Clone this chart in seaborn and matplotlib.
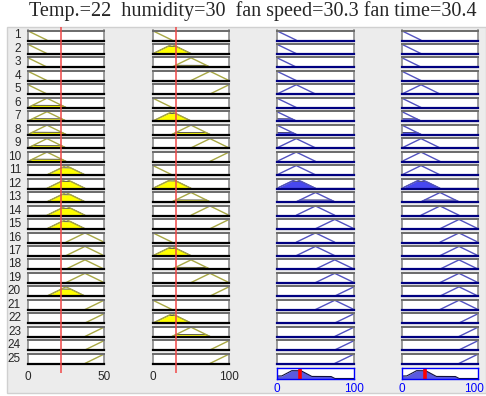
import numpy as np
import matplotlib
matplotlib.use("Agg")
import matplotlib.pyplot as plt
import matplotlib.transforms as mtransforms
from matplotlib.patches import Rectangle
import seaborn as sns

# --- inputs / outputs of the fuzzy system ---
temp_val = 22
hum_val = 30
speed_val = 30.3
time_val = 30.4

temp_range = [0, 50]
hum_range = [0, 100]
speed_range = [0, 100]
time_range = [0, 100]

# triangular membership functions [a, b, c]
temp_mfs = [[-12.5, 0, 12.5], [0, 12.5, 25], [12.5, 25, 37.5], [25, 37.5, 50], [37.5, 50, 62.5]]
hum_mfs = [[-25, 0, 25], [0, 25, 50], [25, 50, 75], [50, 75, 100], [75, 100, 125]]
speed_mfs = [[-25, 0, 25], [0, 25, 50], [25, 50, 75], [50, 75, 100], [75, 100, 125]]
time_mfs = [[-25, 0, 25], [0, 25, 50], [25, 50, 75], [50, 75, 100], [75, 100, 125]]

# rule base (1-based MF index per rule)
rule_temp = [1, 1, 1, 1, 1, 2, 2, 2, 2, 2, 3, 3, 3, 3, 3, 4, 4, 4, 4, 3, 5, 5, 5, 5, 5]
rule_hum = [1, 2, 3, 4, 5, 1, 2, 3, 4, 5, 1, 2, 3, 4, 5, 1, 2, 3, 4, 5, 1, 2, 3, 5, 5]
rule_speed = [1, 1, 1, 1, 2, 1, 1, 1, 2, 2, 2, 2, 3, 3, 4, 3, 3, 4, 4, 5, 4, 5, 5, 5, 5]
rule_time = [1, 1, 1, 1, 2, 1, 1, 1, 2, 2, 2, 2, 3, 3, 4, 4, 4, 4, 4, 4, 4, 5, 5, 5, 5]

title = "Temp.=22  humidity=30  fan speed=30.3 fan time=30.4"


def trimf(x, p):
    a, b, c = p
    x = np.asarray(x, dtype=float)
    left = (x - a) / (b - a)
    right = (c - x) / (c - b)
    return np.clip(np.minimum(left, right), 0, 1)


W, H = 486, 396
fig = plt.figure(figsize=(W / 100, H / 100), dpi=100)
fig.patch.set_facecolor("white")
sns.set_style("white")
plt.rcParams["font.family"] = ["Liberation Sans Narrow", "Liberation Sans", "DejaVu Sans"]

fig.patches.append(Rectangle((7 / W, 1 - 393 / H), (W - 7) / W, (393 - 27) / H,
                             transform=fig.transFigure, facecolor="#ececec",
                             edgecolor="#d0d0d0", lw=1, zorder=-10))


def rect(x0, y0, w, h):
    return [x0 / W, 1 - (y0 + h) / H, w / W, h / H]


cols = [(28, 76), (153, 76), (277, 77), (402, 76)]
row_top0, row_pitch, row_h = 30.5, 13.47, 10

col_specs = [
    (temp_mfs, rule_temp, temp_range, "input"),
    (hum_mfs, rule_hum, hum_range, "input"),
    (speed_mfs, rule_speed, speed_range, "output"),
    (time_mfs, rule_time, time_range, "output"),
]

# firing strength of each rule (min of the two antecedents)
mu_t = [float(trimf(temp_val, temp_mfs[k - 1])) for k in rule_temp]
mu_h = [float(trimf(hum_val, hum_mfs[k - 1])) for k in rule_hum]
strength = [min(a, b) for a, b in zip(mu_t, mu_h)]

line_in = "#a8a844"
line_out = "#5252c0"

for ci, (mfs, rule, rng, kind) in enumerate(col_specs):
    x0, w = cols[ci]
    xs_grid = np.linspace(rng[0], rng[1], 401)
    for i in range(25):
        ax = fig.add_axes(rect(x0, row_top0 + i * row_pitch, w, row_h))
        p = mfs[rule[i] - 1]
        if kind == "input":
            deg = mu_t[i] if ci == 0 else mu_h[i]
            if deg > 0:
                yv = np.minimum(trimf(xs_grid, p), deg)
                ax.fill_between(xs_grid, 0, yv, color="#ffff00", lw=0)
                ax.plot(xs_grid, yv, color="#202000", lw=0.5)
            sns.lineplot(x=p, y=[0, 1, 0], ax=ax, color=line_in, lw=1, sort=False)
            bottom_c = "black"
        else:
            deg = strength[i]
            if deg > 0:
                yv = np.minimum(trimf(xs_grid, p), deg)
                ax.fill_between(xs_grid, 0, yv, color="#4848f0", lw=0)
                ax.plot(xs_grid, yv, color="#202060", lw=0.6)
            sns.lineplot(x=p, y=[0, 1, 0], ax=ax, color=line_out, lw=1, sort=False)
            bottom_c = "#000080"
        ax.set_xlim(rng)
        ax.set_ylim(-0.04, 1.04)
        ax.set_facecolor("white")
        ax.set_xlabel("")
        ax.set_ylabel("")
        ax.set_yticks([])
        for s in ["left", "right"]:
            ax.spines[s].set_color("#808080")
            ax.spines[s].set_linewidth(1.1)
        ax.spines["top"].set_color("#6a6a6a")
        ax.spines["top"].set_linewidth(1.4)
        ax.spines["bottom"].set_color(bottom_c)
        ax.spines["bottom"].set_linewidth(1.6)
        if kind == "input" and i == 24:
            ax.set_xticks(rng)
            ax.set_xticklabels([str(v) for v in rng], fontsize=8.5)
            ax.tick_params(axis="x", length=0, pad=5)
        else:
            ax.set_xticks([])
        if ci == 0:
            fig.text(21 / W, 1 - (row_top0 + i * row_pitch + row_h / 2) / H, str(i + 1),
                     ha="right", va="center", fontsize=8.5)

    if kind == "input":
        ov = fig.add_axes(rect(x0, 27, w, 373 - 27))
        ov.set_xlim(rng)
        ov.patch.set_alpha(0)
        ov.axis("off")
        ov.axvline(temp_val if ci == 0 else hum_val, color="#f04848", lw=1.1)
    else:
        # aggregated output
        ax = fig.add_axes(rect(x0, 368, w, 10.5))
        agg = np.zeros_like(xs_grid)
        for i in range(25):
            agg = np.maximum(agg, np.minimum(trimf(xs_grid, mfs[rule[i] - 1]), strength[i]))
        ax.fill_between(xs_grid, 0, agg, color="#5a5ae0", lw=0)
        sns.lineplot(x=xs_grid, y=agg, ax=ax, color="#101040", lw=0.8)
        ax.axvline(speed_val if ci == 2 else time_val, color="#ff0000", lw=2.6)
        ax.set_xlim(rng)
        ax.set_ylim(0, 1.02)
        ax.set_facecolor("white")
        ax.set_ylabel("")
        ax.set_yticks([])
        for s in ax.spines.values():
            s.set_color("#0000ff")
            s.set_linewidth(1)
        ax.set_xticks(rng)
        ax.set_xticklabels([str(v) for v in rng], fontsize=8.5, color="#0000ff")
        ax.tick_params(axis="x", length=0, pad=3)
        if ci == 3:
            lab = ax.get_xticklabels()[-1]
            lab.set_transform(lab.get_transform() + mtransforms.ScaledTranslation(-4 / 100, 0, fig.dpi_scale_trans))

fig.text(253 / W, 1 - 11 / H, title, ha="center", va="center",
         fontsize=14.5, family=["Liberation Serif", "DejaVu Serif"])

fig.savefig("out.png", dpi=100)
